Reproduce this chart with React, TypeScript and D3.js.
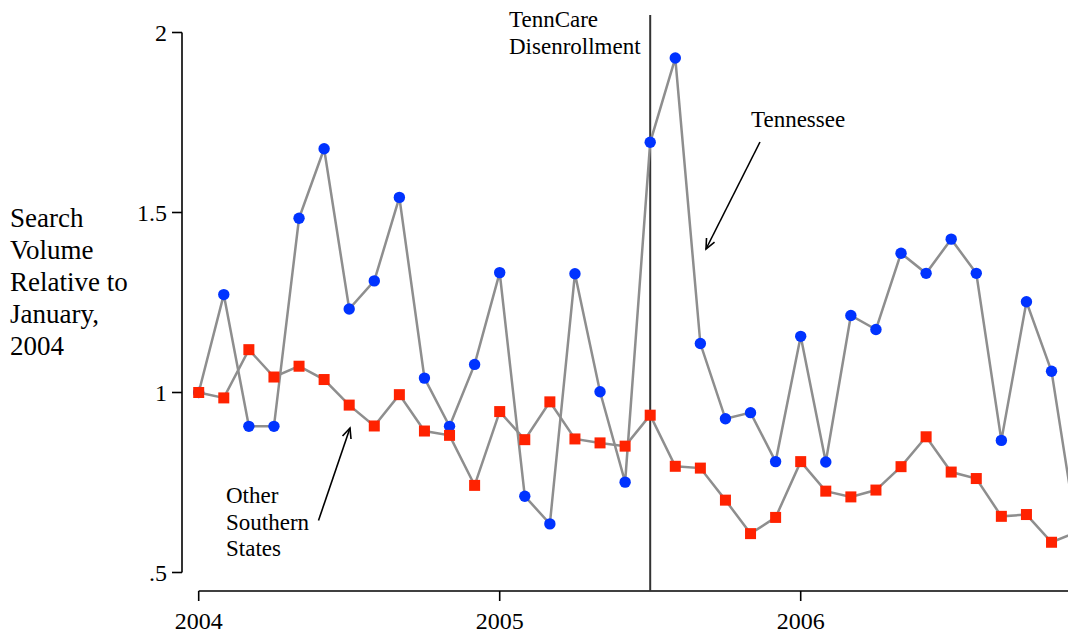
import React from "react";
import * as d3 from "d3";

const yearLabels = ["2004", "2005", "2006"];
const yTicks = [0.5, 1, 1.5, 2];
const yTickLabels = [".5", "1", "1.5", "2"];

// Monthly values, Jan 2004 .. Dec 2006
const tennessee = [
  1.0, 1.272, 0.906, 0.906, 1.484, 1.677, 1.232, 1.31, 1.542, 1.04, 0.906, 1.078,
  1.333, 0.712, 0.635, 1.33, 1.002, 0.751, 1.695, 1.929, 1.136, 0.927, 0.944, 0.808,
  1.156, 0.807, 1.214, 1.175, 1.387, 1.331, 1.426, 1.331, 0.867, 1.252, 1.059, 0.615,
];
const otherSouthern = [
  1.0, 0.985, 1.119, 1.043, 1.073, 1.036, 0.965, 0.907, 0.994, 0.893, 0.881, 0.742,
  0.947, 0.869, 0.974, 0.871, 0.86, 0.851, 0.937, 0.795, 0.79, 0.701, 0.608, 0.653,
  0.808, 0.726, 0.71, 0.729, 0.794, 0.877, 0.779, 0.761, 0.656, 0.661, 0.584, 0.612,
];
const eventMonth = 18; // July 2005
const eventLabel = ["TennCare", "Disenrollment"];
const yTitle = ["Search", "Volume", "Relative to", "January,", "2004"];
const tnLabel = "Tennessee";
const otherLabel = ["Other", "Southern", "States"];

const W = 1068;
const H = 634;
const FONT = "'Liberation Serif', 'Times New Roman', serif";

export default function App() {
  const x = d3.scaleLinear().domain([0, 24]).range([198.7, 800.7]);
  const y = d3.scaleLinear().domain([0.5, 2]).range([572.5, 32.5]);
  const line = d3
    .line<number>()
    .x((_, i) => x(i))
    .y((d) => y(d));

  const axisY = 591;
  const axisX = 182;
  const lineColor = "#8e8e8e";
  const blue = "#0033ff";
  const red = "#ff2200";
  const sq = 11;

  const arrow = (x1: number, y1: number, x2: number, y2: number) => {
    const a = Math.atan2(y2 - y1, x2 - x1);
    const L = 11;
    const s = 0.42;
    const p1 = [x2 - L * Math.cos(a - s), y2 - L * Math.sin(a - s)];
    const p2 = [x2 - L * Math.cos(a + s), y2 - L * Math.sin(a + s)];
    return (
      <g stroke="#000" strokeWidth={1.6} fill="none">
        <line x1={x1} y1={y1} x2={x2} y2={y2} />
        <polyline points={`${p1[0]},${p1[1]} ${x2},${y2} ${p2[0]},${p2[1]}`} />
      </g>
    );
  };

  return (
    <svg
      width={W}
      height={H}
      style={{ position: "absolute", left: 0, top: 0, background: "#fff" }}
      fontFamily={FONT}
    >
      <rect width={W} height={H} fill="#fff" />
      {/* Y axis */}
      <line x1={axisX} y1={y(2)} x2={axisX} y2={y(0.5)} stroke="#000" strokeWidth={1.6} />
      {yTicks.map((t, i) => (
        <g key={t}>
          <line x1={axisX - 10} x2={axisX} y1={y(t)} y2={y(t)} stroke="#000" strokeWidth={1.6} />
          <text x={167} y={y(t) + 8} textAnchor="end" fontSize={24}>
            {yTickLabels[i]}
          </text>
        </g>
      ))}
      {/* X axis */}
      <line x1={x(0)} y1={axisY} x2={W} y2={axisY} stroke="#000" strokeWidth={1.6} />
      {yearLabels.map((lab, i) => (
        <g key={lab}>
          <line x1={x(i * 12)} x2={x(i * 12)} y1={axisY} y2={axisY + 10} stroke="#000" strokeWidth={1.6} />
          <text x={x(i * 12)} y={629} textAnchor="middle" fontSize={24}>
            {lab}
          </text>
        </g>
      ))}
      {/* Y title */}
      {yTitle.map((t, i) => (
        <text key={t} x={10} y={227 + i * 32} fontSize={27}>
          {t}
        </text>
      ))}
      {/* Event line */}
      <line x1={x(eventMonth)} x2={x(eventMonth)} y1={15} y2={axisY} stroke="#333" strokeWidth={2} />
      {eventLabel.map((t, i) => (
        <text key={t} x={509} y={27 + i * 26.5} fontSize={23}>
          {t}
        </text>
      ))}
      {/* Tennessee series */}
      <path d={line(tennessee) || ""} fill="none" stroke={lineColor} strokeWidth={2.5} />
      {tennessee.map((v, i) => (
        <circle key={"b" + i} cx={x(i)} cy={y(v)} r={5.7} fill={blue} />
      ))}
      {/* Other southern states series */}
      <path d={line(otherSouthern) || ""} fill="none" stroke={lineColor} strokeWidth={2.5} />
      {otherSouthern.map((v, i) => (
        <rect key={"r" + i} x={x(i) - sq / 2} y={y(v) - sq / 2} width={sq} height={sq} fill={red} />
      ))}
      {/* Annotations */}
      <text x={751} y={127} fontSize={23}>
        {tnLabel}
      </text>
      {arrow(760, 142, 706, 249)}
      {otherLabel.map((t, i) => (
        <text key={t} x={226} y={503 + i * 26.5} fontSize={23}>
          {t}
        </text>
      ))}
      {arrow(318.5, 520.5, 350, 428)}
    </svg>
  );
}
